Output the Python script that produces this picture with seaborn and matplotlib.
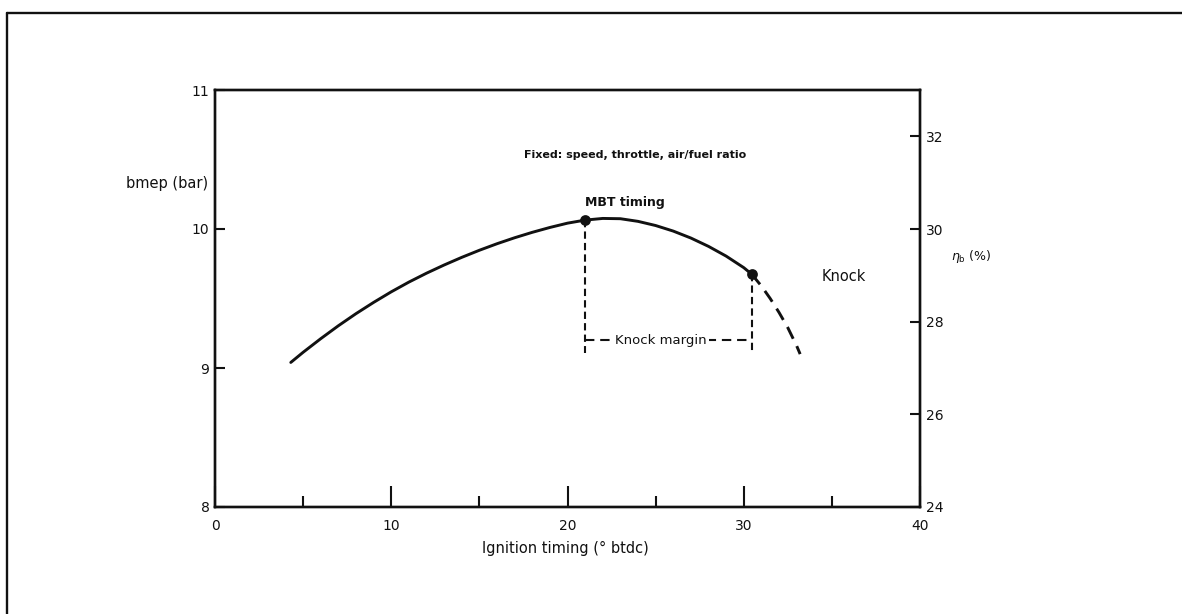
import matplotlib
matplotlib.use("Agg")
import matplotlib.pyplot as plt
from matplotlib.lines import Line2D
import seaborn as sns
import pandas as pd

# Ignition timing sweep (deg btdc) and brake mean effective pressure (bar)
timing_stable = [4.3, 5, 6, 7, 8, 9, 10, 11, 12, 13, 14, 15, 16, 17, 18, 19,
                 20, 21, 22, 23, 24, 25, 26, 27, 28, 29, 30, 30.45]
bmep_stable = [9.040, 9.113, 9.211, 9.304, 9.391, 9.472, 9.548, 9.618, 9.682,
               9.741, 9.796, 9.847, 9.894, 9.937, 9.976, 10.011, 10.042,
               10.064, 10.076, 10.074, 10.055, 10.025, 9.985, 9.935, 9.875,
               9.805, 9.722, 9.675]
timing_knock = [30.45, 31.0, 31.5, 32.0, 32.5, 33.0, 33.2]
bmep_knock = [9.675, 9.59, 9.50, 9.40, 9.29, 9.16, 9.10]

mbt_point = (21.0, 10.064)
knock_point = (30.45, 9.675)
margin_level = 9.20
guide_floor = 9.11

x_ticks = [0, 10, 20, 30, 40]
x_minor = [5, 15, 25, 35]
bmep_ticks = [8, 9, 10, 11]
eta_ticks = [24, 26, 28, 30, 32]
eta_per_bmep = 3.0

sns.set_theme(style="white")
plt.rcParams["font.family"] = ["DejaVu Sans"]
plt.rcParams["mathtext.fontset"] = "dejavusans"

fig = plt.figure(figsize=(11.82, 6.14), dpi=100)
ax = fig.add_axes([215 / 1182, 1 - 507 / 614, 705 / 1182, 417 / 614])

ink = "#111111"
lw_curve = 2.1

stable = pd.DataFrame({"timing": timing_stable, "bmep": bmep_stable})
knock = pd.DataFrame({"timing": timing_knock, "bmep": bmep_knock})

sns.lineplot(data=stable, x="timing", y="bmep", ax=ax, color=ink,
             linewidth=lw_curve, sort=False, estimator=None)
ax.lines[-1].set_solid_joinstyle("round")
sns.lineplot(data=knock, x="timing", y="bmep", ax=ax, color=ink,
             linewidth=lw_curve, sort=False, estimator=None)
ax.lines[-1].set_dashes([4.5, 2.8])

pts = pd.DataFrame({"timing": [mbt_point[0], knock_point[0]],
                    "bmep": [mbt_point[1], knock_point[1]]})
sns.scatterplot(data=pts, x="timing", y="bmep", ax=ax, color=ink, s=60,
                edgecolor=ink, linewidth=0, zorder=5)

# Guides down from MBT and knock-limited timings, joined by the knock margin
for xv, yv in (mbt_point, knock_point):
    ax.plot([xv, xv], [yv, guide_floor], color=ink, lw=1.5, dashes=[3.5, 2.0])
ax.plot([mbt_point[0], knock_point[0]], [margin_level, margin_level],
        color=ink, lw=1.5, dashes=[4.5, 2.8])
ax.text(25.3, margin_level, "Knock margin", ha="center", va="center",
        fontsize=9.5, color=ink,
        bbox=dict(boxstyle="square,pad=0.15", fc="white", ec="none"))

ax.set_xlim(0, 40)
ax.set_ylim(8, 11)
ax.set_xticks(x_ticks)
ax.set_xticks(x_minor, minor=True)
ax.set_yticks(bmep_ticks)
ax.set_xlabel("")
ax.set_ylabel("")
ax.tick_params(axis="x", which="major", direction="in", length=15, width=1.5,
               color=ink, labelsize=10, pad=9, labelcolor=ink, bottom=True)
ax.tick_params(axis="x", which="minor", direction="in", length=8, width=1.5,
               color=ink, bottom=True)
ax.tick_params(axis="y", direction="in", length=7, width=1.5, color=ink,
               labelsize=10, pad=4, labelcolor=ink, left=True)
for sp in ax.spines.values():
    sp.set_color(ink)
    sp.set_linewidth(1.7)

ax2 = ax.twinx()
ax2.set_ylim(8 * eta_per_bmep, 11 * eta_per_bmep)
ax2.set_yticks(eta_ticks)
ax2.tick_params(axis="y", direction="in", length=7, width=1.5, color=ink,
                labelsize=10, pad=4, labelcolor=ink, right=True)
ax2.grid(False)
for sp in ax2.spines.values():
    sp.set_color(ink)
    sp.set_linewidth(1.7)

ax.text(23.86, 10.53, "Fixed: speed, throttle, air/fuel ratio", ha="center",
        va="center", fontsize=8, fontweight="bold", color=ink)
ax.text(-0.4, 10.33, "bmep (bar)", ha="right", va="center", fontsize=10.5,
        color=ink, clip_on=False)
ax.text(20.97, 10.19, "MBT timing", ha="left", va="center", fontsize=9,
        fontweight="bold", color=ink)
ax.text(34.4, 9.66, "Knock", ha="left", va="center", fontsize=10.5, color=ink)
ax.text(41.76, 9.80, r"$\eta_\mathrm{b}$ (%)", ha="left", va="center",
        fontsize=9, color=ink, clip_on=False)
ax.text(19.86, 7.705, "Ignition timing (° btdc)", ha="center", va="center",
        fontsize=10.5, color=ink, clip_on=False)

# Page frame (top and left edges)
fig.add_artist(Line2D([7 / 1182, 7 / 1182], [0, 1 - 13 / 614],
                      color=ink, lw=1.7, transform=fig.transFigure))
fig.add_artist(Line2D([7 / 1182, 1], [1 - 13 / 614, 1 - 13 / 614],
                      color=ink, lw=1.7, transform=fig.transFigure))

fig.savefig("out.png", dpi=100, facecolor="white")
